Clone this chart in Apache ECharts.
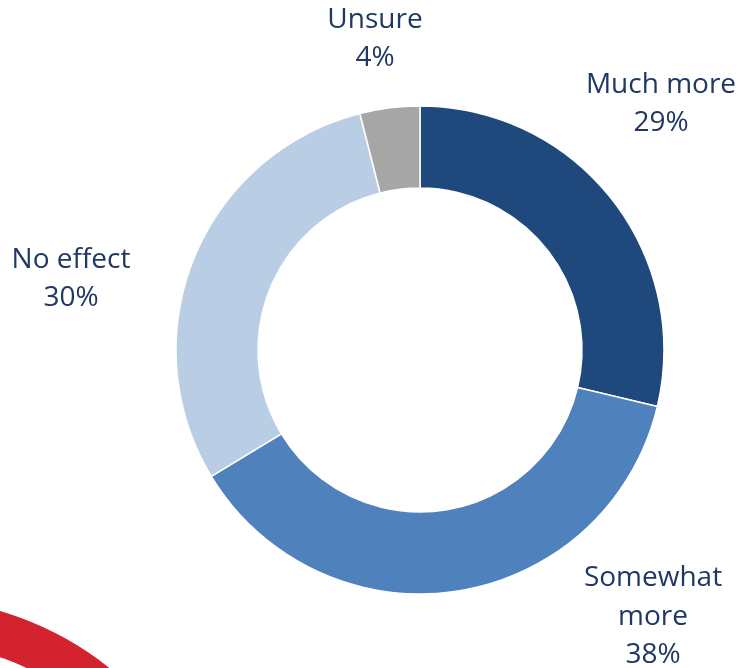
<!DOCTYPE html>
<html><head><meta charset="utf-8">
<script src="https://cdn.jsdelivr.net/npm/echarts@6/dist/echarts.min.js"></script>
<style>html,body{margin:0;padding:0;background:#fff}#c{width:740px;height:668px}</style>
</head><body><div id="c"></div>
<script>
const categories = ['Much more', 'Somewhat more', 'No effect', 'Unsure'];
const labelNames = ['Much more', 'Somewhat\nmore', 'No effect', 'Unsure'];
const values = [29, 38, 30, 4];
const colors = ['#1F497D', '#4F81BD', '#B9CDE5', '#A6A6A6'];
const labelPos = [[661, 104], [653, 617], [71, 279], [375, 39]];

const chart = echarts.init(document.getElementById('c'));
chart.setOption({
  animation: false,
  graphic: [{
    type: 'arc', silent: true, z: -1,
    shape: { cx: -90, cy: 916, r: 296, startAngle: -Math.PI / 2 - 0.2, endAngle: -Math.PI / 2 + 0.9 },
    style: { stroke: '#D2232E', lineWidth: 44, fill: null }
  }],
  series: [{
    type: 'pie',
    center: [420, 350],
    radius: [162, 244],
    startAngle: 90,
    clockwise: true,
    avoidLabelOverlap: false,
    itemStyle: { borderColor: '#fff', borderWidth: 1.5 },
    label: {
      show: true,
      position: 'outside',
      fontFamily: 'Open Sans',
      fontSize: 28,
      lineHeight: 38.5,
      color: '#1F3864',
      align: 'center',
      formatter: p => labelNames[p.dataIndex] + '\n' + p.value + '%'
    },
    labelLine: { show: false },
    labelLayout: p => ({ x: labelPos[p.dataIndex][0], y: labelPos[p.dataIndex][1], align: 'center', verticalAlign: 'middle' }),
    data: categories.map((c, i) => ({ name: c, value: values[i], itemStyle: { color: colors[i] } }))
  }]
});
</script></body></html>
